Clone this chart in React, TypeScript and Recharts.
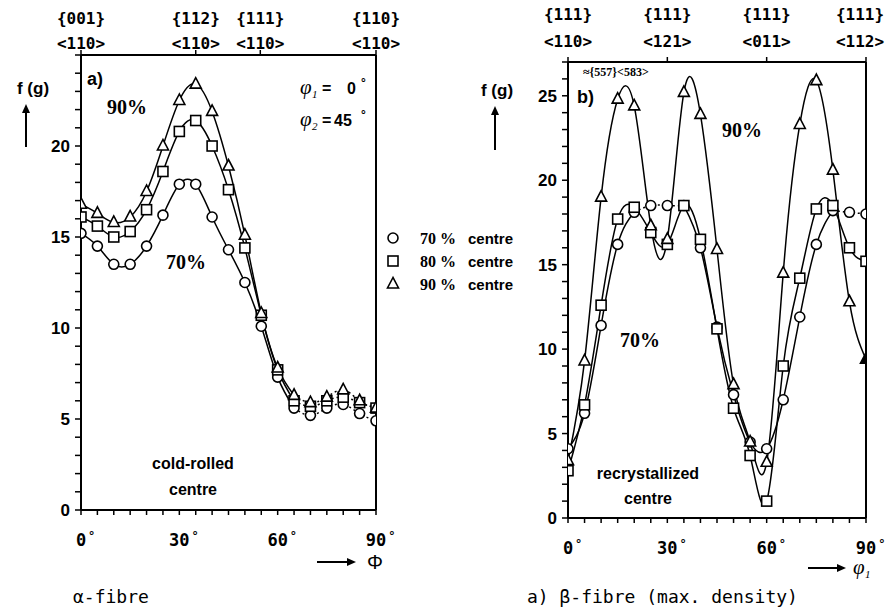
import React from 'react';
import { LineChart, Line, XAxis, YAxis, ReferenceLine } from 'recharts';

// ---------- data ----------
const phiDeg = [0, 5, 10, 15, 20, 25, 30, 35, 40, 45, 50, 55, 60, 65, 70, 75, 80, 85, 90];

// alpha-fibre, cold-rolled centre (phi1 = 0, phi2 = 45)
const alpha70 = [15.2, 14.5, 13.5, 13.5, 14.5, 16.2, 17.9, 17.9, 16.1, 14.3, 12.5, 10.1, 7.3, 5.6, 5.2, 5.6, 5.8, 5.3, 4.9];
const alpha80 = [16.1, 15.6, 15.0, 15.3, 16.5, 18.6, 20.8, 21.4, 20.0, 17.6, 14.4, 10.7, 7.7, 6.0, 5.7, 6.0, 6.2, 5.9, 5.6];
const alpha90 = [16.8, 16.3, 15.8, 16.1, 17.5, 20.0, 22.5, 23.4, 21.9, 18.9, 15.1, 10.8, 7.8, 6.3, 5.9, 6.2, 6.6, 6.0, 5.6];

// beta-fibre, recrystallized centre
const beta70 = [4.1, 6.2, 11.4, 16.2, 18.1, 18.5, 18.5, 18.5, 16.0, 11.3, 7.3, 4.5, 4.1, 7.0, 11.9, 16.2, 18.2, 18.1, 18.0];
const beta80 = [2.8, 6.7, 12.6, 17.7, 18.4, 16.9, 16.2, 18.5, 16.5, 11.2, 6.5, 3.7, 1.0, 9.0, 14.2, 18.3, 18.5, 16.0, 15.2];
const beta90 = [3.4, 9.3, 19.0, 24.8, 24.4, 17.3, 16.5, 25.2, 23.9, 15.9, 7.9, 4.5, 3.3, 14.5, 23.3, 25.9, 20.6, 12.8, 9.4];
const betaFilledTriangleAt = [90];

const alphaTopTicks = [0, 35, 54.7, 90];
const alphaTopPlanes = ['{001}', '{112}', '{111}', '{110}'];
const alphaTopDirs = ['<110>', '<110>', '<110>', '<110>'];
const betaTopTicks = [0, 30, 60, 90];
const betaTopPlanes = ['{111}', '{111}', '{111}', '{111}'];
const betaTopDirs = ['<110>', '<121>', '<011>', '<112>'];

const bottomTicks = [0, 5, 10, 15, 20, 25, 30, 35, 40, 45, 50, 55, 60, 65, 70, 75, 80, 85, 90];
const bottomLabels = [0, 30, 60, 90];
const alphaYTicks = [0, 1, 2, 3, 4, 5, 6, 7, 8, 9, 10, 11, 12, 13, 14, 15, 16, 17, 18, 19, 20, 21, 22, 23, 24, 25];
const alphaYLabels = [0, 5, 10, 15, 20];
const betaYTicks = [0, 1, 2, 3, 4, 5, 6, 7, 8, 9, 10, 11, 12, 13, 14, 15, 16, 17, 18, 19, 20, 21, 22, 23, 24, 25, 26, 27];
const betaYLabels = [0, 5, 10, 15, 20, 25];

const legendLabels = ['70 %', '80 %', '90 %'];
const legendShapes = ['circle', 'square', 'triangle'];

// ---------- derived tables ----------
const alphaRows = phiDeg.map((p, i) => ({
  phi: p,
  a70: alpha70[i], a80: alpha80[i], a90: alpha90[i],
  a70s: p <= 65 ? alpha70[i] : null, a80s: p <= 65 ? alpha80[i] : null, a90s: p <= 65 ? alpha90[i] : null,
  a70d: p >= 65 ? alpha70[i] : null, a80d: p >= 65 ? alpha80[i] : null, a90d: p >= 65 ? alpha90[i] : null,
}));

const betaRows = phiDeg.map((p, i) => ({
  phi: p,
  b70: beta70[i], b80: beta80[i], b90: beta90[i],
  b70s: p <= 20 || (p >= 35 && p <= 80) ? beta70[i] : null,
  b70d: (p >= 20 && p <= 35) || p >= 80 ? beta70[i] : null,
}));

const MONO = '"DejaVu Sans Mono", monospace';
const SANS = '"Liberation Sans", Arial, sans-serif';
const SERIF = '"Liberation Serif", "Times New Roman", serif';

function Marker({ shape, cx, cy, filled }: any) {
  if (cx == null || cy == null || isNaN(cx) || isNaN(cy)) return null;
  const fill = filled ? '#000' : '#fff';
  if (shape === 'circle') return <circle cx={cx} cy={cy} r={5} fill={fill} stroke="#000" strokeWidth={1.6} />;
  if (shape === 'square') return <rect x={cx - 5} y={cy - 5} width={10} height={10} fill={fill} stroke="#000" strokeWidth={1.6} />;
  return (
    <polygon
      points={`${cx},${cy - 6.5} ${cx - 5.5},${cy + 4} ${cx + 5.5},${cy + 4}`}
      fill={fill}
      stroke="#000"
      strokeWidth={1.6}
    />
  );
}

const makeDot = (shape: string, filledAt: number[] = []) => (p: any) => (
  <Marker
    key={`${shape}-${p.index}`}
    shape={shape}
    cx={p.cx}
    cy={p.cy}
    filled={shape === 'triangle' && p.payload && filledAt.indexOf(p.payload.phi) >= 0}
  />
);

const makeYTick = (labels: number[]) => (props: any) => {
  const { x, y, payload } = props;
  if (labels.indexOf(payload.value) < 0) return <g />;
  return (
    <text x={x} y={y} dy={6} textAnchor="end" fontFamily={SANS} fontWeight="bold" fontSize={17} fill="#000">
      {payload.value}
    </text>
  );
};

const makeBottomTick = (dyBase: number) => (props: any) => {
  const { x, y, payload } = props;
  if (bottomLabels.indexOf(payload.value) < 0) return <g />;
  const s = String(payload.value);
  const w = s.length * 10.2;
  return (
    <g>
      <text x={x} y={y + dyBase} textAnchor="middle" fontFamily={MONO} fontWeight="bold" fontSize={17} fill="#000">
        {s}
      </text>
      <text x={x + w / 2 + 2} y={y + dyBase - 6} textAnchor="start" fontFamily={MONO} fontWeight="bold" fontSize={12} fill="#000">
        °
      </text>
    </g>
  );
};

const makeTopTick = (ticks: number[], planes: string[], dirs: string[], off1: number, off2: number, maxX: number) => (props: any) => {
  const { x, y, payload } = props;
  const i = ticks.indexOf(payload.value);
  if (i < 0) return <g />;
  const cx = Math.min(x, maxX);
  return (
    <g>
      <text x={cx} y={y + off1} textAnchor="middle" fontFamily={MONO} fontWeight="bold" fontSize={16} fill="#000">
        {planes[i]}
      </text>
      <text x={cx} y={y + off2} textAnchor="middle" fontFamily={MONO} fontWeight="bold" fontSize={16} fill="#000">
        {dirs[i]}
      </text>
    </g>
  );
};

const axisStroke = { stroke: '#000', strokeWidth: 2 };
const tickStroke = { stroke: '#000', strokeWidth: 1.5 };

function AlphaChart() {
  return (
    <LineChart width={400} height={560} data={alphaRows} margin={{ top: 5, right: 24, bottom: 20, left: 41 }}>
      <XAxis
        xAxisId="bottom" dataKey="phi" type="number" domain={[0, 90]} ticks={bottomTicks} interval={0}
        height={30} tickSize={5} axisLine={axisStroke} tickLine={tickStroke} tick={makeBottomTick(29)}
        allowDataOverflow
      />
      <XAxis
        xAxisId="top" orientation="top" dataKey="phi" type="number" domain={[0, 90]} ticks={alphaTopTicks} interval={0}
        height={50} tickSize={5} axisLine={axisStroke} tickLine={tickStroke}
        tick={makeTopTick(alphaTopTicks, alphaTopPlanes, alphaTopDirs, -24, 1, 1000)} allowDataOverflow
      />
      <YAxis
        type="number" domain={[0, 25]} ticks={alphaYTicks} interval={0} width={40} tickSize={6} tickMargin={5}
        axisLine={axisStroke} tickLine={tickStroke} tick={makeYTick(alphaYLabels)} allowDataOverflow
      />
      <ReferenceLine xAxisId="bottom" x={90} stroke="#000" strokeWidth={2} />
      {(['a70', 'a80', 'a90'] as const).map((k) => (
        <Line key={k + 's'} xAxisId="bottom" dataKey={k + 's'} type="natural" stroke="#000" strokeWidth={1.5}
          dot={false} isAnimationActive={false} connectNulls={false} />
      ))}
      {(['a70', 'a80', 'a90'] as const).map((k) => (
        <Line key={k + 'd'} xAxisId="bottom" dataKey={k + 'd'} type="natural" stroke="#000" strokeWidth={1.5}
          strokeDasharray="2 3" dot={false} isAnimationActive={false} connectNulls={false} />
      ))}
      <Line xAxisId="bottom" dataKey="a70" stroke="none" dot={makeDot('circle')} isAnimationActive={false} />
      <Line xAxisId="bottom" dataKey="a80" stroke="none" dot={makeDot('square')} isAnimationActive={false} />
      <Line xAxisId="bottom" dataKey="a90" stroke="none" dot={makeDot('triangle')} isAnimationActive={false} />
    </LineChart>
  );
}

function BetaChart() {
  return (
    <LineChart width={407} height={560} data={betaRows} margin={{ top: 12, right: 21, bottom: 12, left: 48 }}>
      <XAxis
        xAxisId="bottom" dataKey="phi" type="number" domain={[0, 90]} ticks={bottomTicks} interval={0}
        height={30} tickSize={5} axisLine={axisStroke} tickLine={tickStroke} tick={makeBottomTick(29)}
        allowDataOverflow
      />
      <XAxis
        xAxisId="top" orientation="top" dataKey="phi" type="number" domain={[0, 90]} ticks={betaTopTicks} interval={0}
        height={50} tickSize={5} axisLine={axisStroke} tickLine={tickStroke}
        tick={makeTopTick(betaTopTicks, betaTopPlanes, betaTopDirs, -35, -8, 380)} allowDataOverflow
      />
      <YAxis
        type="number" domain={[0, 27]} ticks={betaYTicks} interval={0} width={40} tickSize={6} tickMargin={5}
        axisLine={axisStroke} tickLine={tickStroke} tick={makeYTick(betaYLabels)} allowDataOverflow
      />
      <ReferenceLine xAxisId="bottom" x={90} stroke="#000" strokeWidth={2} />
      <Line xAxisId="bottom" dataKey="b90" type="natural" stroke="#000" strokeWidth={1.5} dot={false} isAnimationActive={false} />
      <Line xAxisId="bottom" dataKey="b80" type="natural" stroke="#000" strokeWidth={1.5} dot={false} isAnimationActive={false} />
      <Line xAxisId="bottom" dataKey="b70s" type="natural" stroke="#000" strokeWidth={1.5} dot={false} isAnimationActive={false} connectNulls={false} />
      <Line xAxisId="bottom" dataKey="b70d" type="natural" stroke="#000" strokeWidth={1.5} strokeDasharray="2 3" dot={false} isAnimationActive={false} connectNulls={false} />
      <Line xAxisId="bottom" dataKey="b70" stroke="none" dot={makeDot('circle')} isAnimationActive={false} />
      <Line xAxisId="bottom" dataKey="b80" stroke="none" dot={makeDot('square')} isAnimationActive={false} />
      <Line xAxisId="bottom" dataKey="b90" stroke="none" dot={makeDot('triangle', betaFilledTriangleAt)} isAnimationActive={false} />
    </LineChart>
  );
}

function UpArrow({ x, y1, y2 }: any) {
  return (
    <g>
      <line x1={x} y1={y1} x2={x} y2={y2 + 6} stroke="#000" strokeWidth={2} />
      <polygon points={`${x},${y2} ${x - 4},${y2 + 9} ${x + 4},${y2 + 9}`} fill="#000" />
    </g>
  );
}

function RightArrow({ x1, x2, y }: any) {
  return (
    <g>
      <line x1={x1} y1={y} x2={x2 - 6} y2={y} stroke="#000" strokeWidth={2} />
      <polygon points={`${x2},${y} ${x2 - 9},${y - 4} ${x2 - 9},${y + 4}`} fill="#000" />
    </g>
  );
}

function Overlay() {
  const legendY = [238, 261, 284];
  return (
    <svg width={887} height={614} style={{ position: 'absolute', left: 0, top: 0, pointerEvents: 'none' }}>
      {/* left panel */}
      <text x={33} y={94} textAnchor="middle" fontFamily={SANS} fontWeight="bold" fontSize={17}>f (g)</text>
      <UpArrow x={26} y1={147} y2={104} />
      <text x={87} y={85} fontFamily={SANS} fontWeight="bold" fontSize={18}>a)</text>
      <text x={107} y={114} fontFamily={SERIF} fontWeight="bold" fontSize={20}>90%</text>
      <text x={166} y={269} fontFamily={SERIF} fontWeight="bold" fontSize={20}>70%</text>
      <text x={300} y={94} fontFamily={SERIF} fontStyle="italic" fontSize={21}>φ</text>
      <text x={312} y={98} fontFamily={SERIF} fontStyle="italic" fontSize={11}>1</text>
      <text x={322} y={94} fontFamily={SANS} fontWeight="bold" fontSize={16}>=</text>
      <text x={347} y={94} fontFamily={SANS} fontWeight="bold" fontSize={16}>0</text>
      <text x={361} y={87} fontFamily={SANS} fontWeight="bold" fontSize={12}>°</text>
      <text x={300} y={126} fontFamily={SERIF} fontStyle="italic" fontSize={21}>φ</text>
      <text x={312} y={130} fontFamily={SERIF} fontStyle="italic" fontSize={11}>2</text>
      <text x={322} y={126} fontFamily={SANS} fontWeight="bold" fontSize={16}>=</text>
      <text x={334} y={126} fontFamily={SANS} fontWeight="bold" fontSize={16}>45</text>
      <text x={361} y={119} fontFamily={SANS} fontWeight="bold" fontSize={12}>°</text>
      <text x={193} y={469} textAnchor="middle" fontFamily={SANS} fontWeight="bold" fontSize={16}>cold-rolled</text>
      <text x={193} y={495} textAnchor="middle" fontFamily={SANS} fontWeight="bold" fontSize={16}>centre</text>
      <RightArrow x1={317} x2={356} y={562} />
      <text x={375} y={569} textAnchor="middle" fontFamily={SANS} fontSize={20}>Φ</text>
      <text x={73} y={603} fontFamily={MONO} fontSize={18}>α-fibre</text>

      {/* legend */}
      {legendLabels.map((lab, i) => (
        <g key={lab}>
          <Marker shape={legendShapes[i]} cx={393} cy={legendY[i]} />
          <text x={420} y={legendY[i] + 6} fontFamily={SERIF} fontWeight="bold" fontSize={16}>{lab}</text>
          <text x={468} y={legendY[i] + 6} fontFamily={SANS} fontWeight="bold" fontSize={15}>centre</text>
        </g>
      ))}

      {/* right panel */}
      <text x={497} y={96} textAnchor="middle" fontFamily={SANS} fontWeight="bold" fontSize={17}>f (g)</text>
      <UpArrow x={495} y1={150} y2={106} />
      <text x={577} y={103} fontFamily={SANS} fontWeight="bold" fontSize={18}>b)</text>
      <text x={583} y={76} fontFamily={SERIF} fontWeight="bold" fontSize={12}>≈{'{557}<583>'}</text>
      <text x={722} y={137} fontFamily={SERIF} fontWeight="bold" fontSize={20}>90%</text>
      <text x={620} y={347} fontFamily={SERIF} fontWeight="bold" fontSize={20}>70%</text>
      <text x={648} y={479} textAnchor="middle" fontFamily={SANS} fontWeight="bold" fontSize={16}>recrystallized</text>
      <text x={648} y={504} textAnchor="middle" fontFamily={SANS} fontWeight="bold" fontSize={16}>centre</text>
      <RightArrow x1={808} x2={846} y={568} />
      <text x={853} y={574} fontFamily={SERIF} fontStyle="italic" fontSize={21}>φ</text>
      <text x={865} y={578} fontFamily={SERIF} fontStyle="italic" fontSize={11}>1</text>
      <text x={527} y={603} fontFamily={MONO} fontSize={18}>a) β-fibre (max. density)</text>
    </svg>
  );
}

export default function App() {
  return (
    <div style={{ position: 'absolute', left: 0, top: 0, width: 887, height: 614, background: '#fff', overflow: 'hidden' }}>
      <div style={{ position: 'absolute', left: 0, top: 0 }}>
        <AlphaChart />
      </div>
      <div style={{ position: 'absolute', left: 480, top: 0 }}>
        <BetaChart />
      </div>
      <Overlay />
    </div>
  );
}
